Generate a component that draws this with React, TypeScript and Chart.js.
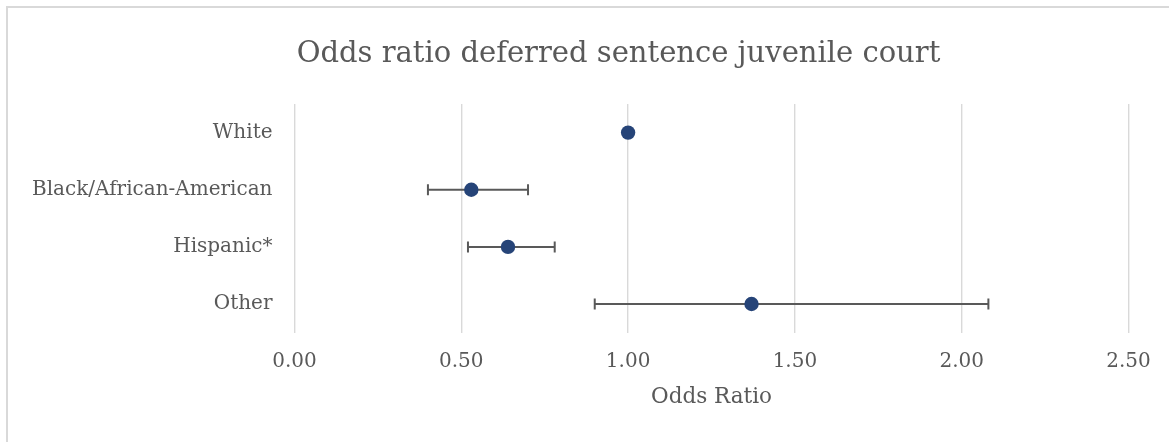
import React, { useEffect, useRef } from "react";
import { Chart, registerables } from "chart.js";

Chart.register(...registerables);

const categories = ["White", "Black/African-American", "Hispanic*", "Other"];
const oddsRatios = [1.0, 0.53, 0.64, 1.37];
const ciLower = [null, 0.4, 0.52, 0.9];
const ciUpper = [null, 0.7, 0.78, 2.08];
const xTicks = [0, 0.5, 1.0, 1.5, 2.0, 2.5];

const TEXT = "#595959";
const GRID = "#d9d9d9";
const MARKER = "#264478";
const FONT = "'DejaVu Serif', serif";

const frame = {
  id: "frame",
  beforeDraw(chart: any) {
    const { ctx, width, height } = chart;
    ctx.save();
    ctx.fillStyle = "#ffffff";
    ctx.fillRect(0, 0, width, height);
    ctx.strokeStyle = GRID;
    ctx.lineWidth = 2;
    ctx.beginPath();
    ctx.moveTo(7, height + 5);
    ctx.lineTo(7, 7);
    ctx.lineTo(width + 5, 7);
    ctx.stroke();
    ctx.restore();
  },
  afterLayout(chart: any) {
    // let the long category labels extend into the left padding without clipping
    const y = chart.scales.y;
    if (y) y.left = 0;
  },
};

export default function App() {
  const ref = useRef<HTMLCanvasElement | null>(null);

  useEffect(() => {
    document.body.style.margin = "0";
    const canvas = ref.current;
    if (!canvas) return;

    const errorSets = categories
      .map((c, i) => {
        if (ciLower[i] == null || ciUpper[i] == null) return null;
        return {
          type: "scatter" as const,
          label: c + " CI",
          data: [
            { x: ciLower[i], y: c },
            { x: ciUpper[i], y: c },
          ],
          showLine: true,
          borderColor: TEXT,
          borderWidth: 2,
          pointStyle: "line",
          rotation: 90,
          pointRadius: 5.5,
          pointBorderColor: TEXT,
          pointBorderWidth: 2,
          pointBackgroundColor: TEXT,
          order: 2,
        };
      })
      .filter(Boolean) as any[];

    const chart = new Chart(canvas, {
      type: "scatter",
      data: {
        labels: categories,
        datasets: [
          {
            label: "Odds ratio",
            data: categories.map((c, i) => ({ x: oddsRatios[i], y: c })) as any,
            pointRadius: 7.2,
            pointBackgroundColor: MARKER,
            pointBorderColor: MARKER,
            pointBorderWidth: 0,
            order: 1,
          },
          ...errorSets,
        ],
      },
      options: {
        responsive: false,
        animation: false,
        events: [],
        layout: { padding: { left: 108.5, right: 40.5, top: 0, bottom: 0 } },
        plugins: {
          legend: { display: false },
          tooltip: { enabled: false },
          title: {
            display: true,
            text: "Odds ratio deferred sentence juvenile court",
            color: TEXT,
            font: { family: FONT, size: 29, weight: "normal" },
            padding: { top: 36.6, bottom: 32.6 },
          },
        },
        scales: {
          x: {
            type: "linear",
            min: 0,
            max: 2.5,
            afterBuildTicks: (scale: any) => {
              scale.ticks = xTicks.map((v) => ({ value: v }));
            },
            afterFit: (scale: any) => {
              scale.height = 109.4;
            },
            grid: { color: GRID, lineWidth: 1.4, drawTicks: false },
            border: { display: false },
            ticks: {
              color: TEXT,
              font: { family: FONT, size: 20 },
              padding: 17,
              callback: (v: any) => Number(v).toFixed(2),
            },
            title: {
              display: true,
              text: "Odds Ratio",
              color: TEXT,
              font: { family: FONT, size: 21.5 },
              padding: { top: 0, bottom: 31.4 },
            },
          },
          y: {
            type: "category",
            labels: categories,
            offset: true,
            afterFit: (scale: any) => {
              scale.width = 186;
            },
            grid: { display: false, drawTicks: false },
            border: { display: false },
            ticks: {
              color: TEXT,
              font: { family: FONT, size: 20 },
              padding: 22,
            },
          },
        },
      },
      plugins: [frame],
    } as any);

    return () => chart.destroy();
  }, []);

  return (
    <div style={{ position: "relative", width: 1169, height: 442 }}>
      <canvas ref={ref} width={1169} height={442} style={{ display: "block" }} />
    </div>
  );
}
